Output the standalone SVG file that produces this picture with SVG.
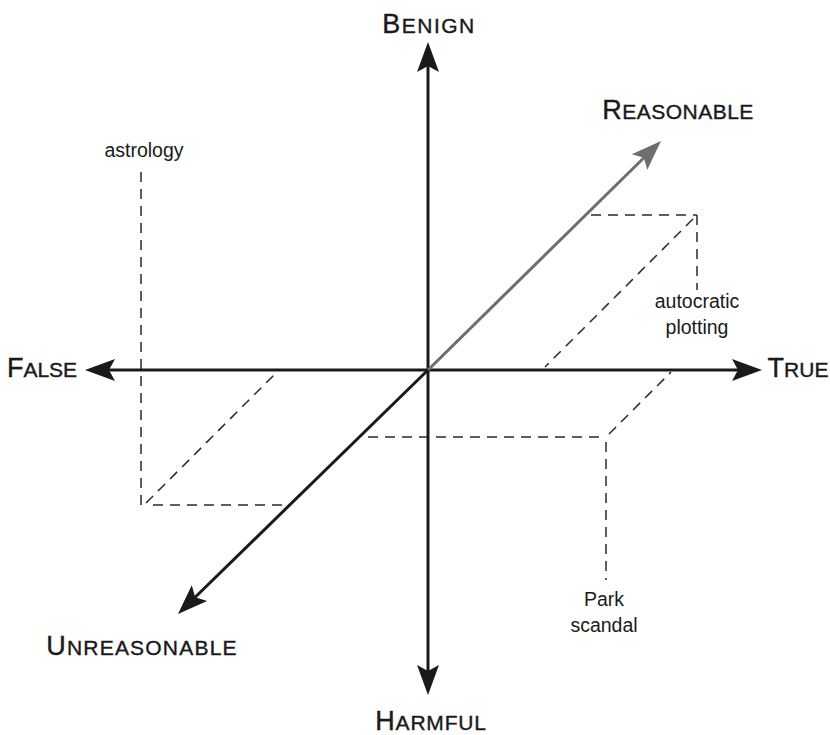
<svg xmlns="http://www.w3.org/2000/svg" width="830" height="735" viewBox="0 0 830 735">
<style>
.axis{stroke:#1a1a1a;stroke-width:3;fill:none}
.axisg{stroke:#6e6e6e;stroke-width:3;fill:none}
.dash{stroke:#2a2a2a;stroke-width:1.5;fill:none;stroke-dasharray:10 7}
.lbl{font-family:"Liberation Sans",Arial,sans-serif;fill:#1a1a1a;text-anchor:middle;stroke:#1a1a1a;stroke-width:0.4}
.big{font-size:27px}
.sc{font-size:21px}
.note{font-family:"Liberation Sans",Arial,sans-serif;font-size:19.5px;fill:#1a1a1a;text-anchor:middle}
</style>
<defs>
<marker id="ah" markerUnits="userSpaceOnUse" markerWidth="40" markerHeight="40" refX="0" refY="0" viewBox="-15 -15 40 30" orient="auto" overflow="visible">
<path d="M20,0 L-10,-11 L-4,0 L-10,11 Z" fill="#1a1a1a"/>
</marker>
<marker id="ahg" markerUnits="userSpaceOnUse" markerWidth="40" markerHeight="40" refX="0" refY="0" viewBox="-15 -15 40 30" orient="auto" overflow="visible">
<path d="M20,0 L-10,-11 L-4,0 L-10,11 Z" fill="#6e6e6e"/>
</marker>
</defs>
<rect width="830" height="735" fill="#ffffff"/>
<g id="connectors">
<line id="dash-astrology-v" class="dash" x1="141" y1="172" x2="141" y2="505"/>
<line id="dash-astrology-h" class="dash" x1="153" y1="505" x2="290" y2="505"/>
<line id="dash-astrology-d" class="dash" x1="146" y1="503" x2="277" y2="372"/>
<line id="dash-auto-h" class="dash" x1="591" y1="215" x2="697" y2="215"/>
<line id="dash-auto-v" class="dash" x1="697" y1="215" x2="697" y2="290"/>
<line id="dash-auto-d" class="dash" x1="693" y1="219" x2="545" y2="367"/>
<line id="dash-park-h" class="dash" x1="368" y1="437" x2="606" y2="437"/>
<line id="dash-park-v" class="dash" x1="606" y1="442" x2="606" y2="580"/>
<line id="dash-park-d" class="dash" x1="609" y1="434" x2="671" y2="372"/>
<line id="axis-v-up" class="axis" x1="428" y1="370" x2="428" y2="62" marker-end="url(#ah)"/>
<line id="axis-v-down" class="axis" x1="428" y1="370" x2="428" y2="675" marker-end="url(#ah)"/>
<line id="axis-h-left" class="axis" x1="428" y1="370" x2="105" y2="370" marker-end="url(#ah)"/>
<line id="axis-h-right" class="axis" x1="428" y1="370" x2="742" y2="370" marker-end="url(#ah)"/>
<line id="axis-d-up" class="axisg" x1="428" y1="370" x2="646.7" y2="155" marker-end="url(#ahg)"/>
<line id="axis-d-down" class="axis" x1="428" y1="370" x2="192.3" y2="600" marker-end="url(#ah)"/>
</g>
<g id="benign"><text class="lbl" x="429" y="33" letter-spacing="1.5"><tspan class="big">B</tspan><tspan class="sc">ENIGN</tspan></text></g>
<g id="harmful"><text class="lbl" x="431" y="730" letter-spacing="0.8"><tspan class="big">H</tspan><tspan class="sc">ARMFUL</tspan></text></g>
<g id="false"><text class="lbl" x="42" y="377"><tspan class="big">F</tspan><tspan class="sc">ALSE</tspan></text></g>
<g id="true"><text class="lbl" x="798" y="377"><tspan class="big">T</tspan><tspan class="sc">RUE</tspan></text></g>
<g id="reasonable"><text class="lbl" x="678" y="119" letter-spacing="0.5"><tspan class="big">R</tspan><tspan class="sc">EASONABLE</tspan></text></g>
<g id="unreasonable"><text class="lbl" x="142" y="655" letter-spacing="1.2"><tspan class="big">U</tspan><tspan class="sc">NREASONABLE</tspan></text></g>
<g id="astrology"><text class="note" x="144" y="157">astrology</text></g>
<g id="autocratic-plotting"><text class="note" x="697" y="308">autocratic</text><text class="note" x="697" y="334">plotting</text></g>
<g id="park-scandal"><text class="note" x="604" y="606">Park</text><text class="note" x="604" y="632">scandal</text></g>
</svg>
